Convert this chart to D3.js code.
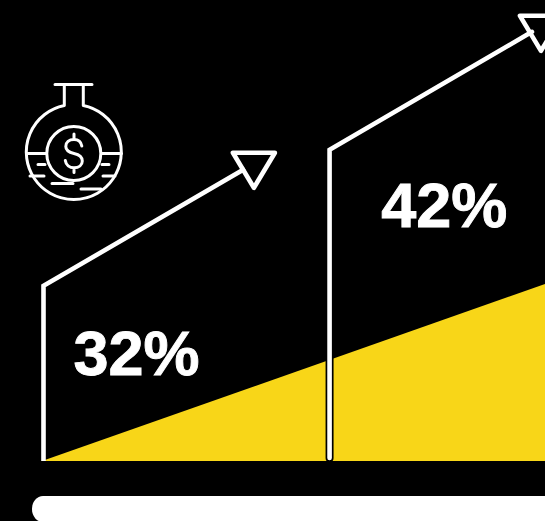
<!DOCTYPE html>
<html>
<head>
<meta charset="utf-8">
<script src="https://cdn.jsdelivr.net/npm/d3@7/dist/d3.min.js"></script>
<style>
html,body{margin:0;padding:0;background:#000;overflow:hidden}
svg{display:block}
text{font-family:"Liberation Sans",Arial,sans-serif;font-weight:700;fill:#fff;stroke:#fff;stroke-width:0.9}
</style>
</head>
<body>
<svg id="chart" width="545" height="521"></svg>
<script>
// Growth steps: label, stem position, height of stem, where the arrow ends
const stepLabels = ["32%", "42%"];
const stemX = [-0.01, 5.7];
const stemTop = [38.0, 67.5];
const arrowEndX = [4.01, 9.74];
const arrowEndY = [63.4, 93.1];
const labelX = [0.59, 6.73];
const labelY = [18.6, 50.7];
// Rising wedge underneath the steps
const wedgeX = [-0.04, 10];
const wedgeY = [0, 38.4];

const width = 545, height = 521;
const x = d3.scaleLinear().domain([0, 10]).range([44, 545]);
const y = d3.scaleLinear().domain([0, 100]).range([461, 0]);
const svg = d3.select("#chart");

// Wedge
svg.append("path")
  .attr("fill", "#f8d618")
  .attr("d", d3.area().x(d => x(d[0])).y0(y(0)).y1(d => y(d[1]))(d3.zip(wedgeX, wedgeY)));

// Base bar along the bottom edge
svg.append("rect")
  .attr("x", 32).attr("y", 496).attr("width", 560).attr("height", 26)
  .attr("rx", 11).attr("ry", 13)
  .attr("fill", "#fff");

const white = "#fff";

// Arrow head outline: fixed shape placed at each arrow tip
const headShape = [[-15, -16], [27, -16], [6, 19]];

stepLabels.forEach((label, i) => {
  const sx = x(stemX[i]), top = y(stemTop[i]), ex = x(arrowEndX[i]), ey = y(arrowEndY[i]);

  // Black keyline around the part of the stem that crosses the wedge
  if (i === 1) {
    svg.append("line")
      .attr("x1", sx).attr("x2", sx)
      .attr("y1", top + 150).attr("y2", y(0) - 3)
      .attr("stroke", "#000").attr("stroke-width", 8).attr("stroke-linecap", "round");
  }

  // Stem and rising arrow shaft
  svg.append("path")
    .attr("fill", "none").attr("stroke", white)
    .attr("stroke-width", 4.6).attr("stroke-linejoin", "miter")
    .attr("stroke-linecap", i === 1 ? "round" : "butt")
    .attr("d", d3.line()([[sx, i === 1 ? y(0) - 3 : y(0)], [sx, top], [ex, ey]]));

  // Arrow head
  svg.append("path")
    .attr("fill", "none").attr("stroke", white)
    .attr("stroke-width", 4.6).attr("stroke-linejoin", "round")
    .attr("d", d3.line()(headShape.map(p => [ex + p[0] + 3, ey + p[1]])) + "Z");

  // Value label
  svg.append("text")
    .attr("x", x(labelX[i])).attr("y", y(labelY[i]))
    .attr("font-size", 63)
    .text(label);
});

// Flask icon with a coin, drawn as line art
const icon = svg.append("g")
  .attr("fill", "none").attr("stroke", white)
  .attr("stroke-width", 3).attr("stroke-linecap", "round").attr("stroke-linejoin", "round");
icon.append("path").attr("d", "M55 84.5H92M64.3 85V105.5A47.5 47.5 0 1 0 83.3 105.5V85");
icon.append("circle").attr("cx", 73.8).attr("cy", 153.5).attr("r", 27);
icon.append("path").attr("d",
  "M26.5 153.5H46M102 153.5H121.5M38 164.5H45M102 164.5H109M30 176H44M103 176H115M52 183.5H73M81 189H101");
icon.append("path").attr("d",
  "M81.8 146C81 141.5 78 139.5 74 139.5C69 139.5 65.8 142.5 65.8 146.5C65.8 151 69.5 152.5 74 153.5C78.5 154.5 82.3 156.5 82.3 161C82.3 165 79 167.8 74 167.8C69.5 167.8 66 165 65.3 160.5M74 134V139.5M74 167.8V172.5");
</script>
</body>
</html>
